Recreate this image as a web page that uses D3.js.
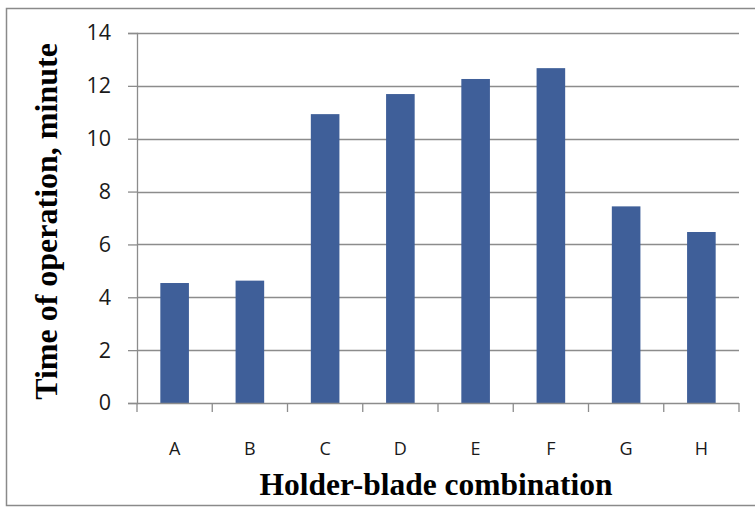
<!DOCTYPE html>
<html>
<head>
<meta charset="utf-8">
<script src="https://cdn.jsdelivr.net/npm/d3@7"></script>
<style>
  html, body { margin: 0; padding: 0; background: #fff; }
  svg { display: block; }
</style>
</head>
<body>
<script>
// Time of operation for each holder-blade combination
const categories = ["A", "B", "C", "D", "E", "F", "G", "H"];
const values = [4.54, 4.63, 10.93, 11.69, 12.26, 12.67, 7.44, 6.47];
const yTicks = [0, 2, 4, 6, 8, 10, 12, 14];

const W = 755, H = 507;
const plot = { left: 137, right: 739, top: 33, bottom: 403 };

const svg = d3.select("body").append("svg")
  .attr("width", W).attr("height", H);

// chart frame
svg.append("rect")
  .attr("x", 6.5).attr("y", 8.5)
  .attr("width", 760).attr("height", 497)
  .attr("fill", "none").attr("stroke", "#8a8a8a").attr("stroke-width", 1.5);

const x = d3.scaleBand()
  .domain(categories)
  .range([plot.left, plot.right])
  .paddingInner(0.62)
  .paddingOuter(0.31);

const y = d3.scaleLinear()
  .domain([0, 14])
  .range([plot.bottom, plot.top]);

// horizontal gridlines
svg.append("g")
  .selectAll("line")
  .data(yTicks.filter(d => d > 0))
  .join("line")
  .attr("x1", plot.left).attr("x2", plot.right)
  .attr("y1", d => Math.round(y(d)) + 0.5).attr("y2", d => Math.round(y(d)) + 0.5)
  .attr("stroke", "#8c8c8c").attr("stroke-width", 1.3);

// bars
svg.append("g")
  .selectAll("rect")
  .data(values)
  .join("rect")
  .attr("x", (d, i) => x(categories[i]))
  .attr("y", d => y(d))
  .attr("width", x.bandwidth())
  .attr("height", d => y(0) - y(d))
  .attr("fill", "#3f5f99");

// y axis
const yAxis = svg.append("g")
  .attr("transform", `translate(${plot.left},0)`)
  .call(d3.axisLeft(y).tickValues(yTicks).tickSize(9).tickPadding(17).tickFormat(d3.format("d")));
yAxis.select(".domain").attr("stroke", "#8c8c8c").attr("stroke-width", 1.3);
yAxis.selectAll(".tick line").attr("stroke", "#8c8c8c").attr("stroke-width", 1.3);
yAxis.selectAll(".tick text")
  .attr("font-family", "'Open Sans', sans-serif")
  .attr("font-size", 21.5).attr("fill", "#1a1a1a");

// x axis with ticks on category boundaries
const xAxisG = svg.append("g")
  .attr("transform", `translate(0,${plot.bottom})`);
xAxisG.append("line")
  .attr("x1", plot.left).attr("x2", plot.right)
  .attr("y1", 0.5).attr("y2", 0.5)
  .attr("stroke", "#8c8c8c").attr("stroke-width", 1.3);
const step = x.step();
xAxisG.selectAll("line.tk")
  .data(d3.range(categories.length + 1))
  .join("line")
  .attr("class", "tk")
  .attr("x1", i => plot.left + i * step).attr("x2", i => plot.left + i * step)
  .attr("y1", 0).attr("y2", 9)
  .attr("stroke", "#8c8c8c").attr("stroke-width", 1.3);
xAxisG.selectAll("text")
  .data(categories)
  .join("text")
  .attr("x", d => x(d) + x.bandwidth() / 2)
  .attr("y", 52)
  .attr("text-anchor", "middle")
  .attr("font-family", "'Open Sans', sans-serif")
  .attr("font-size", 18).attr("fill", "#1a1a1a")
  .text(d => d);

// axis titles
svg.append("text")
  .attr("x", 436).attr("y", 495)
  .attr("text-anchor", "middle")
  .attr("font-family", "'Liberation Serif', 'Times New Roman', serif")
  .attr("font-weight", "bold").attr("font-size", 31.5).attr("fill", "#000")
  .text("Holder-blade combination");

svg.append("text")
  .attr("transform", `translate(57,${(43 + 400) / 2}) rotate(-90)`)
  .attr("text-anchor", "middle")
  .attr("font-family", "'Liberation Serif', 'Times New Roman', serif")
  .attr("font-weight", "bold").attr("font-size", 32).attr("fill", "#000")
  .text("Time of operation, minute");
</script>
</body>
</html>
